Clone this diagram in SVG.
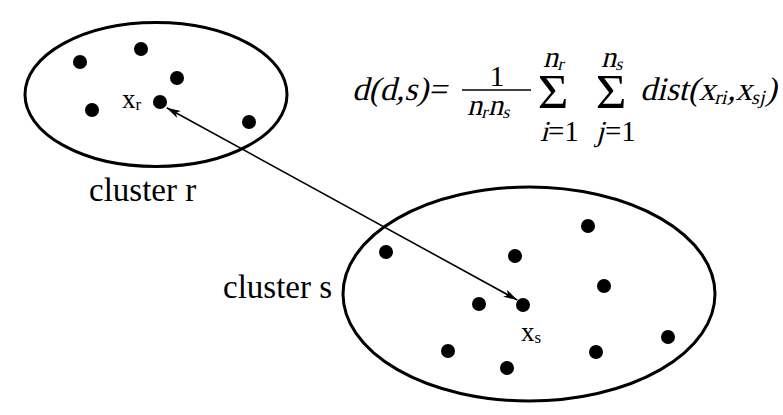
<svg xmlns="http://www.w3.org/2000/svg" width="783" height="415" viewBox="0 0 783 415">
<style>
.cl{fill:none;stroke:#000;stroke-width:3}
.dot{fill:#000}
.t{font-family:"Liberation Serif","Times New Roman",serif;fill:#000}
.conn{stroke:#000;stroke-width:1.6;fill:none}
</style>
<defs>
<marker id="ah" viewBox="0 0 14 8" refX="14" refY="4" markerWidth="14" markerHeight="8" markerUnits="userSpaceOnUse" orient="auto-start-reverse">
<path d="M0,0 L14,4 L0,8 L3.5,4 z" fill="#000"/>
</marker>
</defs>
<rect width="783" height="415" fill="#fff"/>
<g id="cluster-r">
<ellipse class="cl" cx="156" cy="94.5" rx="131" ry="72"/>
<circle class="dot" cx="80" cy="62" r="7"/>
<circle class="dot" cx="141" cy="49" r="7"/>
<circle class="dot" cx="177" cy="78" r="7"/>
<circle class="dot" cx="92" cy="110" r="7"/>
<circle class="dot" cx="160" cy="102" r="7"/>
<circle class="dot" cx="249" cy="122" r="7"/>
<text class="t" x="122" y="108" font-size="27">x<tspan font-size="17" dy="2">r</tspan></text>
<text class="t" x="89" y="201" font-size="33">cluster r</text>
</g>
<g id="cluster-s">
<ellipse class="cl" cx="529" cy="294" rx="186" ry="107"/>
<circle class="dot" cx="386" cy="252" r="7"/>
<circle class="dot" cx="515" cy="256" r="7"/>
<circle class="dot" cx="588" cy="226" r="7"/>
<circle class="dot" cx="604" cy="286" r="7"/>
<circle class="dot" cx="479" cy="304" r="7"/>
<circle class="dot" cx="523" cy="305" r="7"/>
<circle class="dot" cx="448" cy="351" r="7"/>
<circle class="dot" cx="507" cy="368" r="7"/>
<circle class="dot" cx="596" cy="352" r="7"/>
<circle class="dot" cx="668" cy="337" r="7"/>
<text class="t" x="521" y="341" font-size="27">x<tspan font-size="17" dy="2">s</tspan></text>
<text class="t" x="223" y="298" font-size="33">cluster s</text>
</g>
<g id="connectors">
<line class="conn" x1="517.3" y1="300" x2="166.7" y2="107.7" marker-start="url(#ah)" marker-end="url(#ah)"/>
</g>
<g id="formula">
<text class="t" transform="translate(352,100) skewX(-14)" font-size="33">d(d,s)=</text>
<text class="t" x="497" y="86" font-size="30" text-anchor="middle">1</text>
<line x1="462" y1="90" x2="531" y2="90" stroke="#000" stroke-width="1.5"/>
<text class="t" transform="translate(467,115) skewX(-14)" font-size="30">n<tspan font-size="18" dy="3">r</tspan><tspan dy="-3">n</tspan><tspan font-size="18" dy="3">s</tspan></text>
<text class="t" transform="translate(553,108) scale(1.1,1)" font-size="48" text-anchor="middle">Σ</text>
<text class="t" transform="translate(543,67) skewX(-14)" font-size="30">n<tspan font-size="18" dy="3">r</tspan></text>
<text class="t" transform="translate(540,141) skewX(-14)" font-size="29">i</text>
<text class="t" x="548" y="141" font-size="29">=1</text>
<text class="t" transform="translate(611,108) scale(1.1,1)" font-size="48" text-anchor="middle">Σ</text>
<text class="t" transform="translate(601,67) skewX(-14)" font-size="30">n<tspan font-size="18" dy="3">s</tspan></text>
<text class="t" transform="translate(596,141) skewX(-14)" font-size="29">j</text>
<text class="t" x="605" y="141" font-size="29">=1</text>
<text class="t" transform="translate(640,100) skewX(-14)" font-size="33">dist(x<tspan font-size="20" dy="4">ri</tspan><tspan dy="-4">,x</tspan><tspan font-size="20" dy="4">sj</tspan><tspan dy="-4">)</tspan></text>
</g>
</svg>
